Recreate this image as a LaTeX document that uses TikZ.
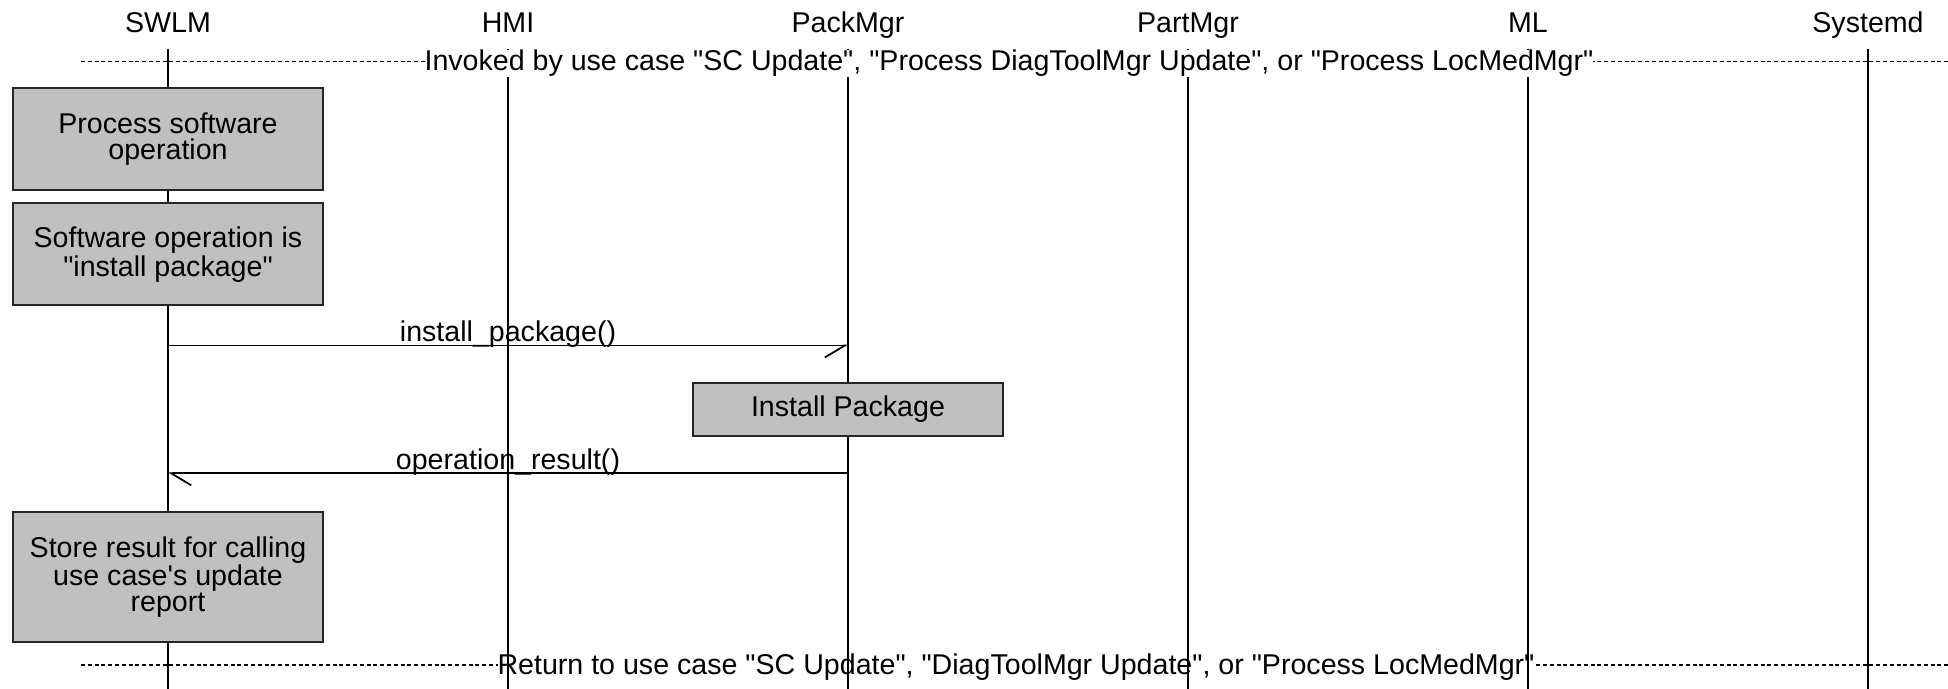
\documentclass[tikz,border=0pt]{standalone}
\usepackage{fontspec}
\setmainfont{Liberation Sans}[Ligatures=TeXOff]
\usetikzlibrary{arrows.meta}
\definecolor{boxgray}{HTML}{C0C0C0}
\newcommand{\usc}{\symbol{95}}
\begin{document}
\begin{tikzpicture}[x=0.5pt,y=-0.5pt,
  font=\fontsize{14.3}{12.9}\selectfont,
  hdr/.style={anchor=base, inner sep=0pt},
  lifeline/.style={line width=0.9pt, black},
  sepline/.style={line width=0.8pt, dash pattern=on 2pt off 1.4pt},
  seplabel/.style={anchor=base, fill=white, inner sep=0pt},
  actbox/.style={draw=black!85, line width=1pt, fill=boxgray, minimum width=155pt, align=center, inner sep=0pt},
  msg/.style={line width=0.9pt},
  msglabel/.style={midway, anchor=base, yshift=1.8pt, inner sep=0pt},
  toR/.style={-{Straight Barb[right, length=10pt, width=12pt]}},
  toL/.style={-{Straight Barb[left, length=10pt, width=12pt]}}
]
\useasboundingbox (0,0) rectangle (1948,689);

% header labels
\node[hdr] (h1) at (168,33) {SWLM};
\node[hdr] (h2) at (508,33) {HMI};
\node[hdr] (h3) at (848,33) {PackMgr};
\node[hdr] (h4) at (1188,33) {PartMgr};
\node[hdr] (h5) at (1528,33) {ML};
\node[hdr] (h6) at (1868,33) {Systemd};

% separator lines
\coordinate (s1a) at (81,61.5);
\coordinate (s1b) at (1948,61.5);
\coordinate (s2a) at (81,665);
\coordinate (s2b) at (1948,665);
\draw[sepline] (s1a) -- (s1b);
\draw[sepline] (s2a) -- (s2b);
\node[seplabel] (ret) at (1016,674.3) {Return to use case "SC Update", "DiagToolMgr Update", or "Process LocMedMgr"};

% lifelines
\foreach \i/\x in {1/168,2/508,3/848,4/1188,5/1528,6/1868}{
  \coordinate (lt\i) at (\x,49);
  \coordinate (lb\i) at (\x,689);
  \draw[lifeline] (lt\i) -- (lb\i);
}

\node[seplabel] (inv) at (1009,70.7) {Invoked by use case "SC Update", "Process DiagToolMgr Update", or "Process LocMedMgr"};

% activity boxes
\node[actbox, minimum height=51pt] (b1) at (168,139) {Process software\\operation};
\node[actbox, minimum height=51pt] (b2) at (168,254.5) {Software operation is\\"install package"};
\node[actbox, minimum height=26.5pt] (b3) at (848,409.5) {Install Package};
\node[actbox, minimum height=65pt] (b4) at (168,577) {Store result for calling\\use case's update\\report};

% messages
\coordinate (m1s) at (168,345.5);
\coordinate (m1e) at (848,345.5);
\coordinate (m2s) at (848,473.3);
\coordinate (m2e) at (168,473.3);
\draw[msg, toR] (m1s) -- node[msglabel] (l1) {install\usc package()} (m1e);
\draw[msg, toL] (m2s) -- node[msglabel] (l2) {operation\usc result()} (m2e);
\end{tikzpicture}
\end{document}
